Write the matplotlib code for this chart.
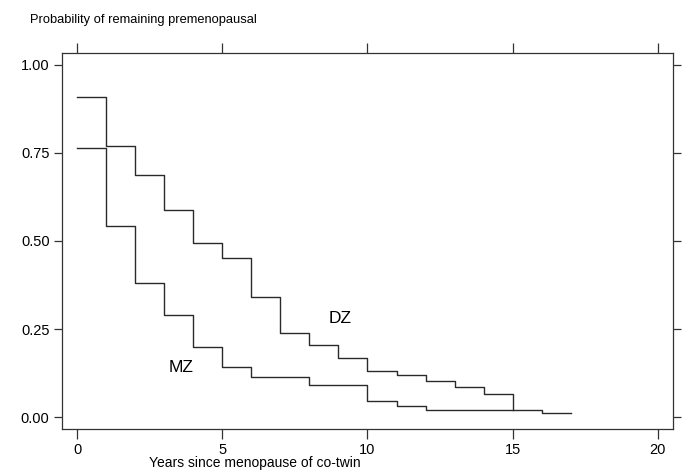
import matplotlib
matplotlib.use('Agg')
import matplotlib.pyplot as plt

plt.rcParams['font.family'] = ['Liberation Sans', 'DejaVu Sans']

# survival steps (value holds from year t to t+1)
dzYears = list(range(0, 16))
dzProb = [0.908, 0.770, 0.688, 0.588, 0.493, 0.451, 0.342, 0.239,
          0.205, 0.168, 0.131, 0.118, 0.103, 0.086, 0.064, 0.021]

mzYears = list(range(0, 18))
mzProb = [0.764, 0.543, 0.380, 0.290, 0.198, 0.141, 0.113, 0.113,
          0.090, 0.090, 0.046, 0.031, 0.021, 0.021, 0.021, 0.021,
          0.012, 0.012]

xTicks = [0, 5, 10, 15, 20]
yTicks = [0.0, 0.25, 0.5, 0.75, 1.0]
yTickLabels = ['0.00', '0.25', '0.50', '0.75', '1.00']

lineColor = '#2a2a2a'

fig = plt.figure(figsize=(6.83, 4.71), dpi=100)
ax = fig.add_axes([0.0908, 0.0892, 0.8946, 0.7983])

ax.step(dzYears, dzProb, where='post', color=lineColor, lw=1.0)
ax.step(mzYears, mzProb, where='post', color=lineColor, lw=1.0)

ax.text(9.05, 0.28, 'DZ', fontsize=12.5, ha='center', va='center', color='black')
ax.text(3.58, 0.142, 'MZ', fontsize=12.5, ha='center', va='center', color='black')

ax.set_xlim(-0.516, 20.52)
ax.set_ylim(-0.034, 1.034)
ax.set_xticks(xTicks)
ax.set_yticks(yTicks)
ax.set_yticklabels(yTickLabels)
ax.tick_params(axis='both', direction='out', length=6, width=0.9, color='#333333',
               labelsize=10.5, top=True, right=True, labeltop=False, labelright=False,
               pad=3)
ax.tick_params(axis='x', which='both', length=7)
for sp in ax.spines.values():
    sp.set_color('#333333')
    sp.set_linewidth(0.9)

fig.text(30 / 683, 1 - 20 / 471, 'Probability of remaining premenopausal',
         fontsize=9.3, ha='left', va='center')
fig.text(255 / 683, 1 - 463 / 471, 'Years since menopause of co-twin',
         fontsize=10, ha='center', va='center')

fig.savefig('out.png', dpi=100)
